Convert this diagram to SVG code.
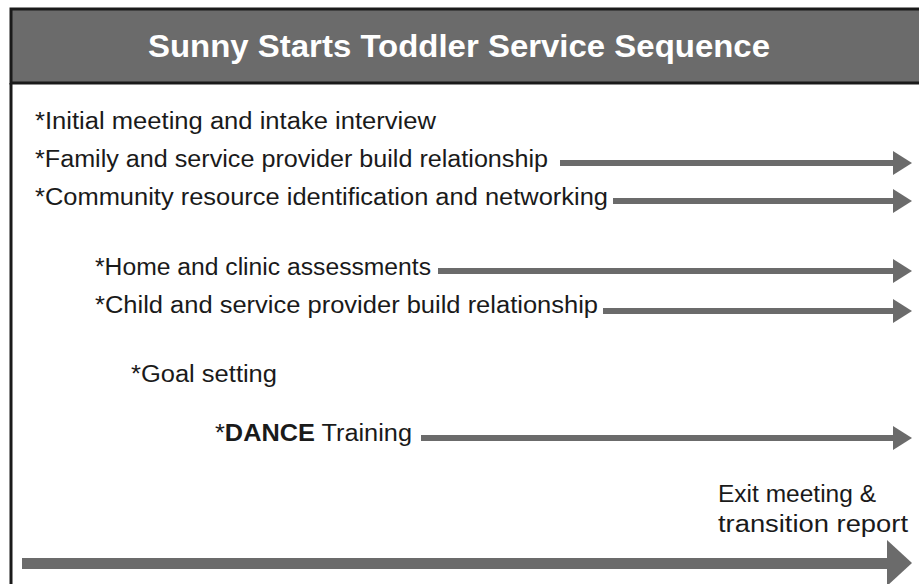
<svg xmlns="http://www.w3.org/2000/svg" width="919" height="584" viewBox="0 0 919 584">
<style>
.t{font-family:"Liberation Sans",Arial,sans-serif;font-size:23px;fill:#1a1a1a}
.title{font-family:"Liberation Sans",Arial,sans-serif;font-size:31px;font-weight:bold;fill:#ffffff}
.shaft{fill:#6b6b6b}
.head{fill:#6b6b6b}
</style>
<rect width="919" height="584" fill="#ffffff"/>
<g id="frame">
<rect x="11" y="9" width="912" height="74" fill="#6b6b6b" stroke="#1a1a1a" stroke-width="3"/>
<line x1="11" y1="83" x2="11" y2="584" stroke="#1a1a1a" stroke-width="3"/>
</g>
<g id="title"><text class="title" x="148" y="57" textLength="622" lengthAdjust="spacingAndGlyphs">Sunny Starts Toddler Service Sequence</text></g>
<g id="n1"><text class="t" x="35" y="129" textLength="401" lengthAdjust="spacingAndGlyphs">*Initial meeting and intake interview</text></g>
<g id="n2"><text class="t" x="35" y="167" textLength="513" lengthAdjust="spacingAndGlyphs">*Family and service provider build relationship</text></g>
<g id="n3"><text class="t" x="35" y="205" textLength="573" lengthAdjust="spacingAndGlyphs">*Community resource identification and networking</text></g>
<g id="n4"><text class="t" x="95" y="275" textLength="336" lengthAdjust="spacingAndGlyphs">*Home and clinic assessments</text></g>
<g id="n5"><text class="t" x="95" y="313" textLength="503" lengthAdjust="spacingAndGlyphs">*Child and service provider build relationship</text></g>
<g id="n6"><text class="t" x="131" y="382" textLength="146" lengthAdjust="spacingAndGlyphs">*Goal setting</text></g>
<g id="n7"><text class="t" x="215" y="441" textLength="197" lengthAdjust="spacingAndGlyphs">*<tspan font-weight="bold">DANCE</tspan> Training</text></g>
<g id="n8"><text class="t" x="718" y="502" textLength="158" lengthAdjust="spacingAndGlyphs">Exit meeting &amp;</text><text class="t" x="718" y="532" textLength="190" lengthAdjust="spacingAndGlyphs">transition report</text></g>
<g id="connectors">
<rect class="shaft" x="560" y="160" width="335" height="6"/>
<polygon class="head" points="893,151 912,163 893,175"/>
<rect class="shaft" x="613" y="198" width="282" height="6"/>
<polygon class="head" points="893,189 912,201 893,213"/>
<rect class="shaft" x="438" y="268" width="457" height="6"/>
<polygon class="head" points="893,259 912,271 893,283"/>
<rect class="shaft" x="603" y="308" width="292" height="6"/>
<polygon class="head" points="893,299 912,311 893,323"/>
<rect class="shaft" x="421" y="435" width="474" height="6"/>
<polygon class="head" points="893,426 912,438 893,450"/>
<rect class="shaft" x="22" y="558" width="867" height="11"/>
<polygon class="head" points="887,540 912,563 887,586"/>
</g>
</svg>
